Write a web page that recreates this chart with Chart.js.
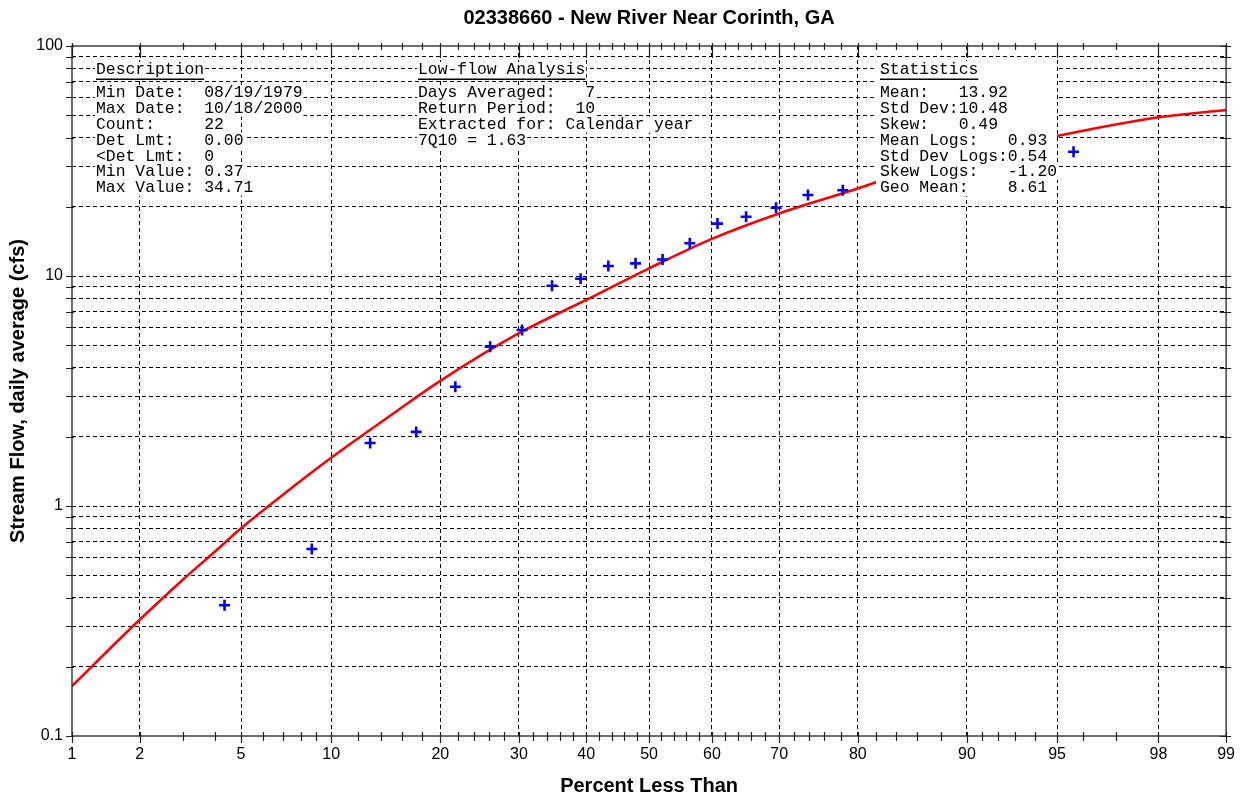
<!DOCTYPE html>
<html>
<head>
<meta charset="utf-8">
<title>02338660 - New River Near Corinth, GA</title>
<script src="https://cdn.jsdelivr.net/npm/chart.js@4.4.1/dist/chart.umd.min.js"></script>
<style>
    html, body { margin: 0; padding: 0; background: #fff; }
    #wrap { width: 1244px; height: 798px; position: relative; }
</style>
</head>
<body>
<div id="wrap"><canvas id="flowChart"></canvas></div>
<script>
// Observed annual 7-day low flows (plotting position in percent, flow in cfs)
const obsPercent = [4.35, 8.70, 13.04, 17.39, 21.74, 26.09, 30.43, 34.78, 39.13, 43.48, 47.83,
                    52.17, 56.52, 60.87, 65.22, 69.57, 73.91, 78.26, 82.61, 86.96, 91.30, 95.65];
const obsFlow = [0.37, 0.65, 1.88, 2.10, 3.30, 4.93, 5.82, 9.07, 9.73, 11.05, 11.35,
                 11.8, 13.87, 16.9, 18.1, 19.8, 22.5, 23.6, 24.8, 27.5, 30.5, 34.71];

// Fitted frequency curve
const fitPercent = [1, 2, 3, 4, 5, 7, 10, 15, 20, 30, 40, 50, 60, 70, 80, 85, 90, 95, 98, 99];
const fitFlow = [0.165, 0.32, 0.477, 0.633, 0.80, 1.12, 1.62, 2.5, 3.5, 5.64, 7.87, 10.8,
                 14.5, 18.7, 24.0, 28.3, 33.0, 40.6, 49.0, 52.7];

// Axis ticks
const tickPercents = [1, 2, 3, 4, 5, 6, 7, 8, 9, 10, 12, 14, 16, 18, 20, 22, 24, 26, 28, 30,
                      32, 34, 36, 38, 40, 42, 44, 46, 48, 50, 52, 54, 56, 58, 60, 62, 64, 66, 68, 70,
                      72, 74, 76, 78, 80, 82, 84, 86, 88, 90, 91, 92, 93, 94, 95, 96, 97, 98, 99];
const majorPercents = [1, 2, 5, 10, 20, 30, 40, 50, 60, 70, 80, 90, 95, 98, 99];
const flowTicks = [0.1, 0.2, 0.3, 0.4, 0.5, 0.6, 0.7, 0.8, 0.9, 1, 2, 3, 4, 5, 6, 7, 8, 9,
                   10, 20, 30, 40, 50, 60, 70, 80, 90, 100];
const flowLabels = [0.1, 1, 10, 100];

// Info text blocks
const descLines = ['Min Date:  08/19/1979', 'Max Date:  10/18/2000', 'Count:     22', 'Det Lmt:   0.00',
                   '<Det Lmt:  0', 'Min Value: 0.37', 'Max Value: 34.71'];
const lowflowLines = ['Days Averaged:   7', 'Return Period:  10', 'Extracted for: Calendar year', '7Q10 = 1.63'];
const statsLines = ['Mean:   13.92', 'Std Dev:10.48', 'Skew:   0.49', 'Mean Logs:   0.93',
                    'Std Dev Logs:0.54', 'Skew Logs:   -1.20', 'Geo Mean:    8.61'];

// inverse normal cdf (Acklam) for the probability axis
const probit = (p) => {
    const a = [-39.69683028665376, 220.9460984245205, -275.9285104469687, 138.3577518672690, -30.66479806614716, 2.506628277459239];
    const b = [-54.47609879822406, 161.5858368580409, -155.6989798598866, 66.80131188771972, -13.28068155288572];
    const c = [-0.007784894002430293, -0.3223964580411365, -2.400758277161838, -2.549732539343734, 4.374664141464968, 2.938163982698783];
    const d = [0.007784695709041462, 0.3224671290700398, 2.445134137142996, 3.754408661907416];
    const lo = 0.02425;
    if (p < lo) {
        const q = Math.sqrt(-2 * Math.log(p));
        return (((((c[0] * q + c[1]) * q + c[2]) * q + c[3]) * q + c[4]) * q + c[5]) / ((((d[0] * q + d[1]) * q + d[2]) * q + d[3]) * q + 1);
    }
    if (p > 1 - lo) {
        const q = Math.sqrt(-2 * Math.log(1 - p));
        return -(((((c[0] * q + c[1]) * q + c[2]) * q + c[3]) * q + c[4]) * q + c[5]) / ((((d[0] * q + d[1]) * q + d[2]) * q + d[3]) * q + 1);
    }
    const q = p - 0.5, r = q * q;
    return (((((a[0] * r + a[1]) * r + a[2]) * r + a[3]) * r + a[4]) * r + a[5]) * q / (((((b[0] * r + b[1]) * r + b[2]) * r + b[3]) * r + b[4]) * r + 1);
};
const z = (pct) => probit(pct / 100);

const sansFont = '"Liberation Sans", Arial, sans-serif';
const narrowFont = '"Liberation Sans Narrow", "Arial Narrow", "Liberation Sans", Arial, sans-serif';
const monoFont = '16.4px "Liberation Mono", "Courier New", monospace';

// text blocks, frame and crossing tick marks
const overlayPlugin = {
    id: 'overlay',
    afterDatasetsDraw(chart) {
        const { ctx, chartArea: area, scales: { x, y } } = chart;
        ctx.save();
        ctx.font = monoFont;
        ctx.textBaseline = 'middle';
        ctx.textAlign = 'left';

        const drawBlock = (title, lines, left) => {
            const headY = area.top + 24;
            const hw = ctx.measureText(title).width;
            ctx.fillStyle = '#fff';
            ctx.fillRect(left - 1, headY - 8, hw + 2, 18);
            ctx.fillStyle = '#000';
            ctx.fillText(title, left, headY);
            ctx.fillRect(left, headY + 8.5, hw, 1.5);
            lines.forEach((line, i) => {
                const ly = area.top + 47 + i * 15.8;
                const w = ctx.measureText(line).width;
                ctx.fillStyle = '#fff';
                ctx.fillRect(left - 1, ly - 8, w + 2, 16);
                ctx.fillStyle = '#000';
                ctx.fillText(line, left, ly);
            });
        };

        // statistics block sits on a solid white box
        ctx.fillStyle = '#fff';
        ctx.fillRect(area.left + 804, area.top + 15, 181, 135);
        drawBlock('Description', descLines, area.left + 24);
        drawBlock('Low-flow Analysis', lowflowLines, area.left + 346);
        drawBlock('Statistics', statsLines, area.left + 808);

        // frame
        ctx.strokeStyle = '#222';
        ctx.lineWidth = 1.3;
        ctx.strokeRect(area.left, area.top, area.right - area.left, area.bottom - area.top);

        // tick marks
        ctx.lineWidth = 1.2;
        ctx.beginPath();
        tickPercents.forEach(p => {
            const px = Math.round(x.getPixelForValue(z(p))) + 0.5;
            const major = majorPercents.includes(p);
            ctx.moveTo(px, area.bottom - 4);
            ctx.lineTo(px, area.bottom + (major ? 7 : 5));
            ctx.moveTo(px, area.top - 3);
            ctx.lineTo(px, area.top + (major ? 12 : 4));
        });
        flowTicks.forEach(v => {
            const py = Math.round(y.getPixelForValue(v)) + 0.5;
            ctx.moveTo(area.left - 6, py);
            ctx.lineTo(area.left + 2, py);
            ctx.moveTo(area.right - 6, py);
            ctx.lineTo(area.right + 5, py);
        });
        ctx.stroke();
        ctx.restore();
    }
};

const setupFlowChart = () => {
    const ctx = document.getElementById('flowChart').getContext('2d');
    new Chart(ctx, {
        type: 'scatter',
        data: {
            datasets: [{
                label: 'Observed',
                data: obsPercent.map((p, i) => ({ x: z(p), y: obsFlow[i] })),
                pointStyle: 'cross',
                pointRadius: 5.5,
                pointBorderWidth: 2.6,
                borderColor: '#0000ff',
                backgroundColor: '#0000ff',
                order: 0
            }, {
                label: 'Fitted',
                type: 'line',
                data: fitPercent.map((p, i) => ({ x: z(p), y: fitFlow[i] })),
                borderColor: '#ff0000',
                borderWidth: 2.6,
                pointRadius: 0,
                cubicInterpolationMode: 'monotone',
                fill: false,
                order: 1
            }]
        },
        options: {
            animation: false,
            responsive: true,
            maintainAspectRatio: false,
            layout: { padding: { top: 0, right: 16, bottom: 0, left: 0 } },
            plugins: {
                legend: { display: false },
                tooltip: { enabled: false },
                title: {
                    display: true,
                    fullSize: false,
                    text: '02338660 - New River Near Corinth, GA',
                    color: '#000',
                    font: { family: sansFont, size: 20, weight: 'bold' },
                    padding: { top: 6, bottom: 16 }
                }
            },
            scales: {
                x: {
                    type: 'linear',
                    bounds: 'data',
                    min: z(1),
                    max: z(99),
                    afterBuildTicks: (s) => { s.ticks = tickPercents.map(p => ({ value: z(p) })); },
                    afterFit: (s) => { s.height = 62; },
                    ticks: {
                        autoSkip: false,
                        maxRotation: 0,
                        padding: 9,
                        color: '#000',
                        font: { family: narrowFont, size: 16 },
                        callback: (v, i) => majorPercents.includes(tickPercents[i]) ? String(tickPercents[i]) : ''
                    },
                    grid: {
                        drawTicks: false,
                        lineWidth: 1,
                        color: (c) => {
                            const p = tickPercents[c.index];
                            return majorPercents.includes(p) && p !== 1 && p !== 99 ? '#000' : 'rgba(0,0,0,0)';
                        }
                    },
                    border: { display: false, dash: [4, 3] },
                    title: {
                        display: true,
                        text: 'Percent Less Than',
                        color: '#000',
                        font: { family: sansFont, size: 20, weight: 'bold' },
                        padding: { top: 0, bottom: 0 }
                    }
                },
                y: {
                    type: 'logarithmic',
                    min: 0.1,
                    max: 100,
                    afterBuildTicks: (s) => { s.ticks = flowTicks.map(v => ({ value: v })); },
                    afterFit: (s) => { s.width = 72; },
                    ticks: {
                        autoSkip: false,
                        padding: 9,
                        color: '#000',
                        font: { family: narrowFont, size: 16 },
                        callback: (v) => flowLabels.includes(v) ? String(v) : ''
                    },
                    grid: {
                        drawTicks: false,
                        lineWidth: 1,
                        color: (c) => {
                            const v = flowTicks[c.index];
                            return v === 0.1 || v === 100 ? 'rgba(0,0,0,0)' : '#000';
                        }
                    },
                    border: { display: false, dash: [4, 3] },
                    title: {
                        display: true,
                        text: 'Stream Flow, daily average (cfs)',
                        color: '#000',
                        font: { family: sansFont, size: 20, weight: 'bold' },
                        padding: { top: 6, bottom: 0 }
                    }
                }
            }
        },
        plugins: [overlayPlugin]
    });
};

setupFlowChart();
</script>
</body>
</html>
